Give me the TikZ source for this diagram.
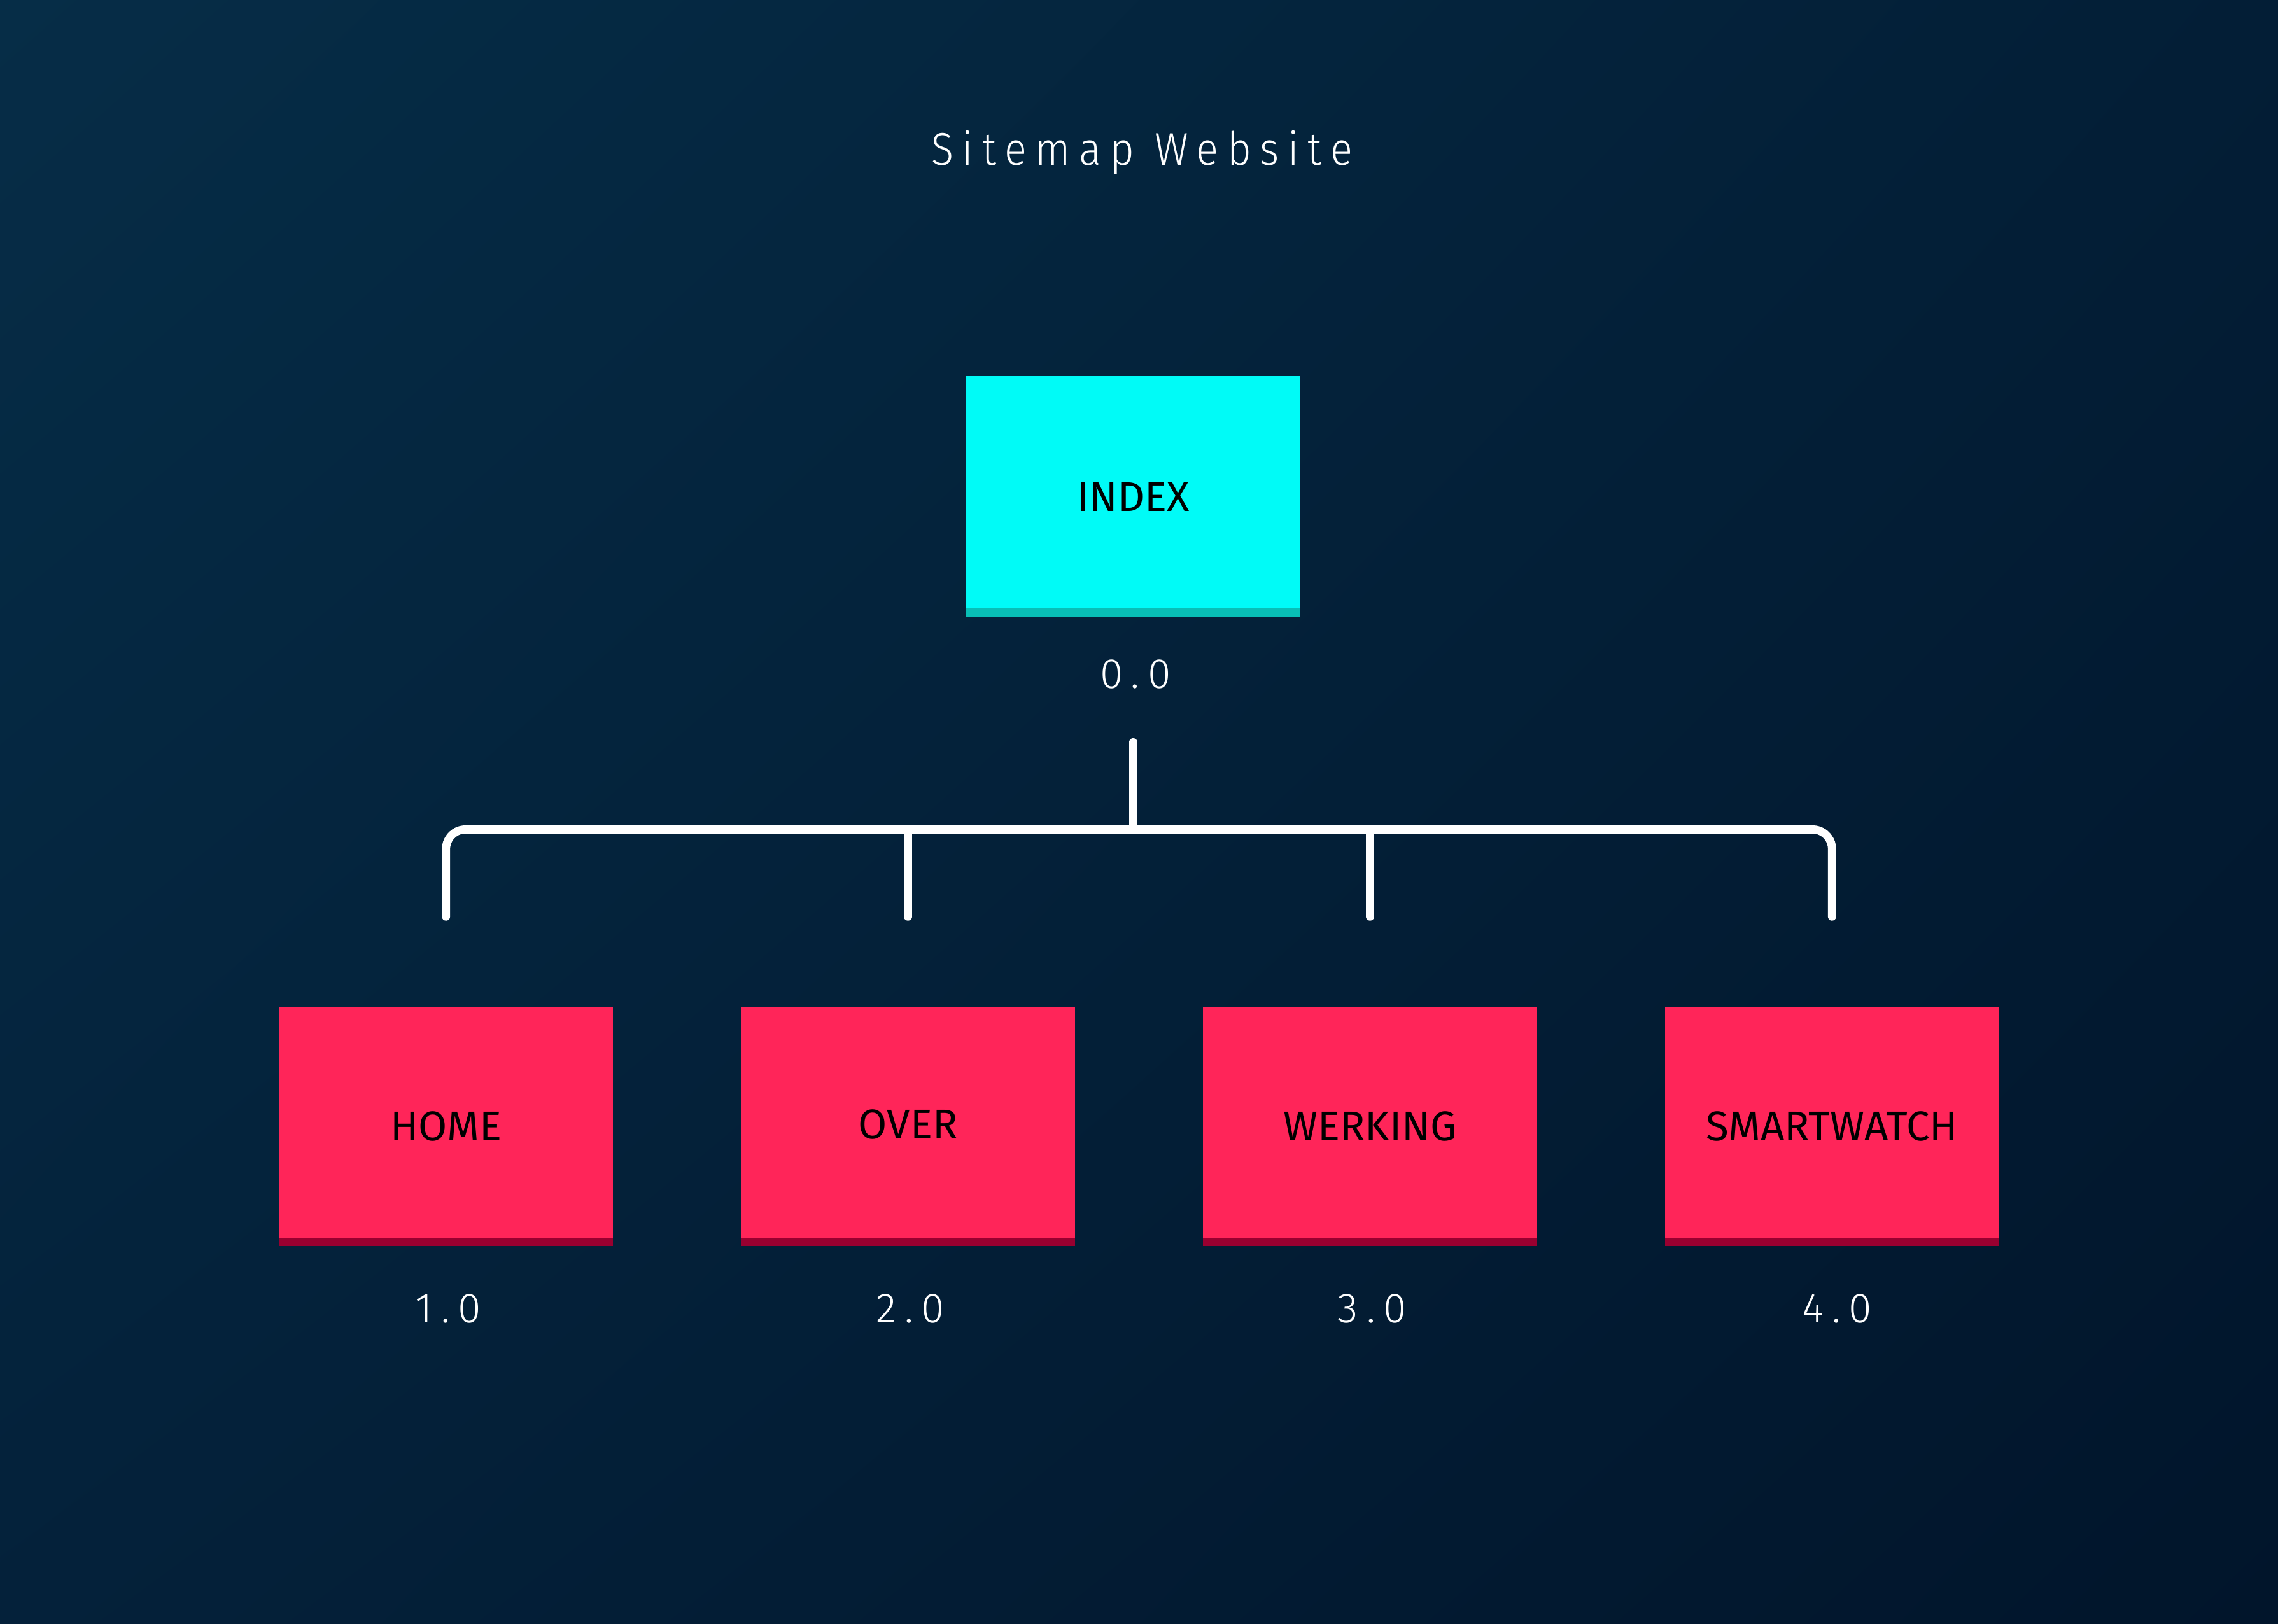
\documentclass[tikz,border=0pt]{standalone}
\usepackage{fontspec}
\setmainfont{Fira Sans}
\newfontfamily\titlefont{Fira Sans Light}[LetterSpace=19, FakeStretch=0.9]
\newfontfamily\numfont{Fira Sans Light}[LetterSpace=20]
\usetikzlibrary{calc}
\usetikzlibrary{shadings}

\definecolor{bgtl}{HTML}{062D47}
\definecolor{bgtr}{HTML}{031E36}
\definecolor{bgbl}{HTML}{04213A}
\definecolor{bgbr}{HTML}{01152B}
\definecolor{indexcyan}{HTML}{00FBF7}
\definecolor{indexshade}{HTML}{08BFB6}
\definecolor{pagepink}{HTML}{FF2559}
\definecolor{pageshade}{HTML}{990030}

\tikzset{
	pagebox/.style={rectangle, inner sep=0pt, minimum width=4.6cm, minimum height=3.3cm,
		text=black, font=\fontsize{16.3}{19}\selectfont},
	indexbox/.style={pagebox, fill=indexcyan, minimum height=3.32cm,
		path picture={\fill[indexshade] (path picture bounding box.south west) rectangle ([yshift=0.12cm]path picture bounding box.south east);}},
	subbox/.style={pagebox, fill=pagepink,
		path picture={\fill[pageshade] (path picture bounding box.south west) rectangle ([yshift=0.12cm]path picture bounding box.south east);}},
	numlabel/.style={inner sep=0pt, text=white, font=\numfont\fontsize{16.5}{19}\selectfont},
	link/.style={draw=white, line width=3.2pt, line cap=round}
}

\begin{document}
\begin{tikzpicture}

\newcommand{\pagew}{31.36}
\newcommand{\pageh}{22.36}
\newcommand{\toprow}{-6.84}
\newcommand{\subrow}{-15.51}
\newcommand{\numrow}{-18.02}

	\useasboundingbox (0, 0) rectangle (\pagew, -\pageh);
	\shade[upper left=bgtl, upper right=bgtr, lower left=bgbl, lower right=bgbr]
		(0, 0) rectangle (\pagew, -\pageh);

	\node[anchor=base, text=white, font=\titlefont\fontsize{18}{22}\selectfont] (title) at (15.72, -2.27) {Sitemap Website};

	% top level
	\node[indexbox] (index) at (15.6, \toprow) {INDEX};
	\node[numlabel] (indexnum) at (15.63, -9.28) {0.0};

	% second level
	\node[subbox] (home) at (6.14, \subrow) {HOME};
	\node[subbox] (over) at (12.5, \subrow) {\raisebox{2pt}{OVER}};
	\node[subbox] (werking) at (18.86, \subrow) {WERKING};
	\node[subbox] (smartwatch) at (25.22, \subrow) {SMARTWATCH};

	\node[numlabel] (homenum) at (6.17, \numrow) {1.0};
	\node[numlabel] (overnum) at (12.53, \numrow) {2.0};
	\node[numlabel] (werkingnum) at (18.89, \numrow) {3.0};
	\node[numlabel] (smartwatchnum) at (25.29, \numrow) {4.0};

	% tree lines
	\coordinate (stem) at (15.6, -10.22);
	\coordinate (hub) at (15.6, -11.42);
	\coordinate (homedrop) at (6.14, -12.62);
	\coordinate (overdrop) at (12.5, -12.62);
	\coordinate (werkingdrop) at (18.86, -12.62);
	\coordinate (smartwatchdrop) at (25.22, -12.62);

	\draw[link] (stem) -- (hub);
	\draw[link, rounded corners=0.27cm] (homedrop) |- (hub) -| (smartwatchdrop);
	\draw[link] (overdrop) -- (overdrop |- hub);
	\draw[link] (werkingdrop) -- (werkingdrop |- hub);

\end{tikzpicture}
\end{document}
